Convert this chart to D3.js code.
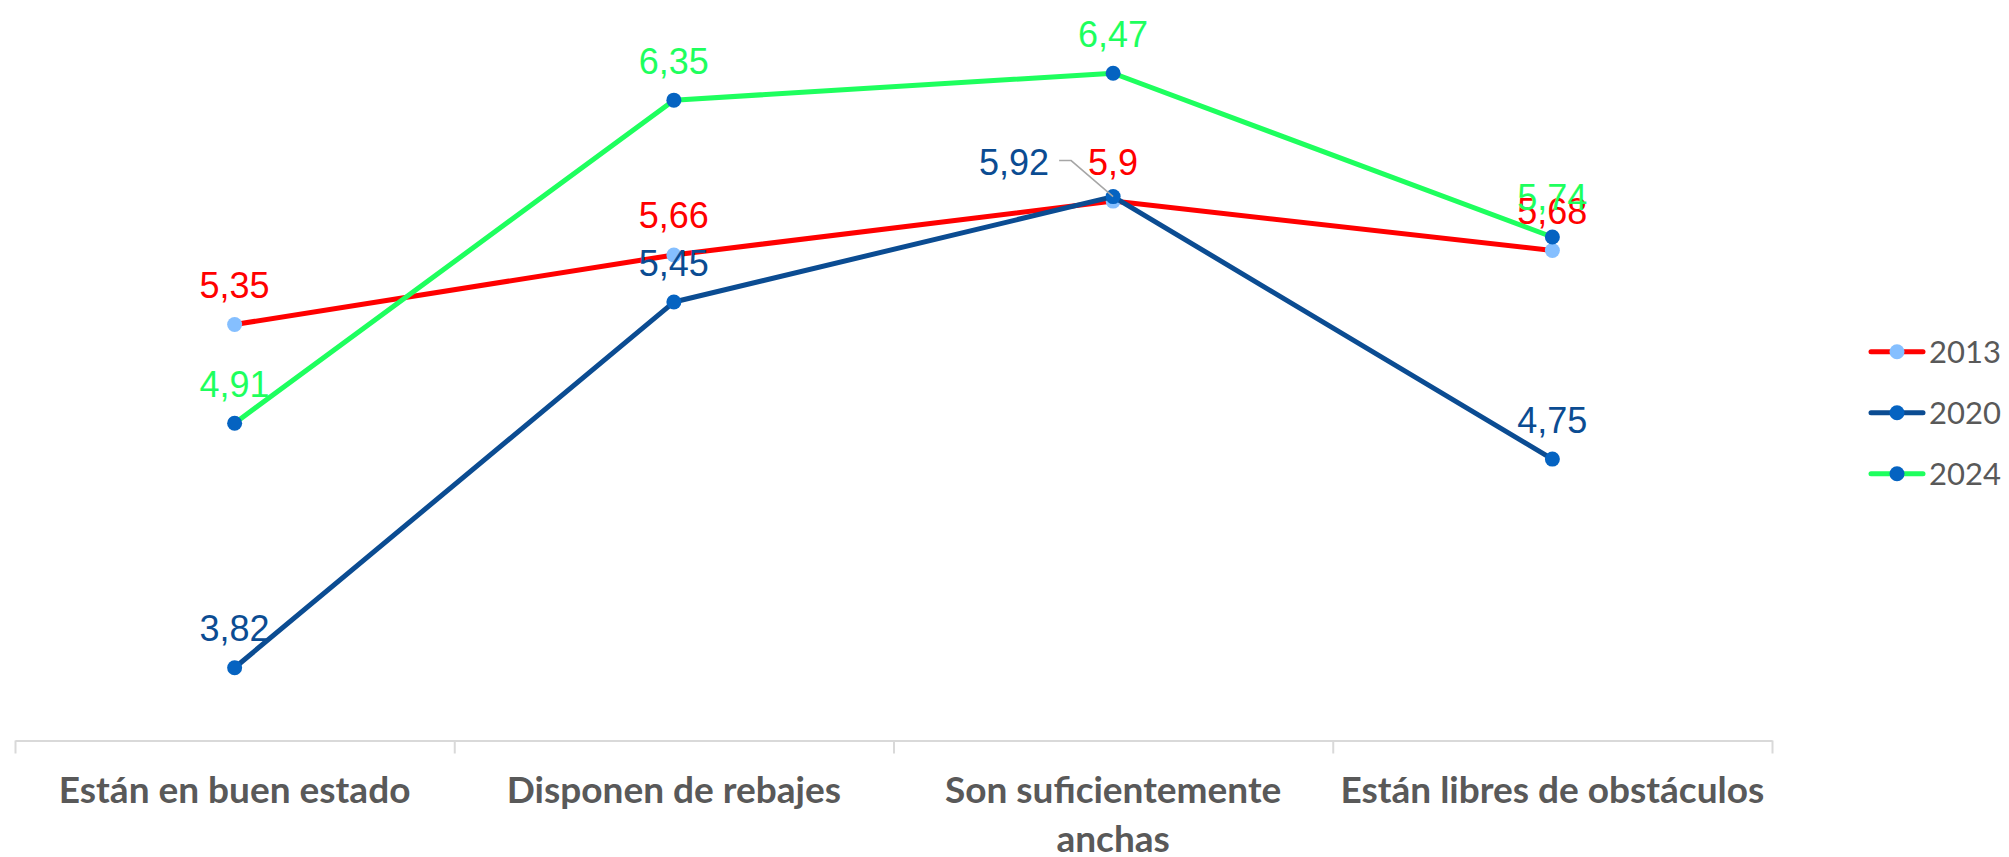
<!DOCTYPE html>
<html>
<head>
<meta charset="utf-8">
<script src="https://cdn.jsdelivr.net/npm/d3@7"></script>
<style>
  html, body { margin: 0; padding: 0; background: #ffffff; }
  svg { display: block; }
</style>
</head>
<body>
<svg id="chart" width="2009" height="857"></svg>
<script>
// ---- data ----
const categories = ["Están en buen estado", "Disponen de rebajes", "Son suficientemente anchas", "Están libres de obstáculos"];
const seriesNames = ["2013", "2020", "2024"];
const values2013 = [5.35, 5.66, 5.90, 5.68];
const values2020 = [3.82, 5.45, 5.92, 4.75];
const values2024 = [4.91, 6.35, 6.47, 5.74];
const labels2013 = ["5,35", "5,66", "5,9", "5,68"];
const labels2020 = ["3,82", "5,45", "5,92", "4,75"];
const labels2024 = ["4,91", "6,35", "6,47", "5,74"];
const yDomain = [3.5, 6.5];

// ---- styles ----
const styles = [
  { line: "#FF0000", marker: "#85BFFF", label: "#FF0000" },
  { line: "#0B4C92", marker: "#0563C1", label: "#0B4C92" },
  { line: "#1EFF5E", marker: "#0563C1", label: "#1EFF5E" }
];
const seriesValues = [values2013, values2020, values2024];
const seriesLabels = [labels2013, labels2020, labels2024];

const svg = d3.select("#chart");
const plotLeft = 15, plotRight = 1772, plotTop = 66.5, plotBottom = 739.5;

const x = d3.scalePoint().domain(categories).range([plotLeft, plotRight]).padding(0.5);
const xEdges = d3.scaleLinear().domain([0, categories.length]).range([plotLeft, plotRight]);
const y = d3.scaleLinear().domain(yDomain).range([plotBottom, plotTop]);

// ---- axis ----
const axisG = svg.append("g").attr("transform", `translate(0,${plotBottom + 1})`)
  .call(d3.axisBottom(xEdges).tickValues(d3.range(categories.length + 1)).tickSize(13).tickSizeOuter(0).tickFormat(""));
axisG.select(".domain").attr("stroke", "#D9D9D9").attr("stroke-width", 2);
axisG.selectAll(".tick line").attr("stroke", "#D9D9D9").attr("stroke-width", 2);

// category labels with wrapping
const catFont = "bold 37px Lato, 'Open Sans', sans-serif";
const maxW = xEdges(1) - xEdges(0) - 8;
const catG = svg.append("g");
categories.forEach(c => {
  const t = catG.append("text")
    .attr("x", x(c)).attr("y", 803)
    .attr("text-anchor", "middle")
    .style("font", catFont)
    .attr("fill", "#595959");
  const words = c.split(" ");
  let line = [], lineNo = 0;
  let tspan = t.append("tspan").attr("x", x(c)).attr("dy", 0);
  words.forEach(w => {
    line.push(w);
    tspan.text(line.join(" "));
    if (tspan.node().getComputedTextLength() > maxW && line.length > 1) {
      line.pop();
      tspan.text(line.join(" "));
      line = [w];
      lineNo++;
      tspan = t.append("tspan").attr("x", x(c)).attr("dy", 49).text(w);
    }
  });
});

// ---- lines & markers ----
const lineGen = d3.line().x((d, i) => x(categories[i])).y(d => y(d));
seriesValues.forEach((vals, s) => {
  svg.append("path").datum(vals)
    .attr("d", lineGen)
    .attr("fill", "none")
    .attr("stroke", styles[s].line)
    .attr("stroke-width", 5)
    .attr("stroke-linejoin", "round");
  svg.append("g").selectAll("circle").data(vals).join("circle")
    .attr("cx", (d, i) => x(categories[i]))
    .attr("cy", d => y(d))
    .attr("r", 7.5)
    .attr("fill", styles[s].marker);
});

// ---- data labels ----
// label offsets (dx, dy relative to point); default centered above
const labelOffsets = { "1-2": { dx: -99, dy: -22, leader: true } };
seriesValues.forEach((vals, s) => {
  vals.forEach((v, i) => {
    const px = x(categories[i]), py = y(v);
    const off = labelOffsets[`${s}-${i}`] || { dx: 0, dy: -26.5 };
    if (off.leader) {
      svg.append("path")
        .attr("d", `M${px + off.dx + 45},${py + off.dy - 14} L${px + off.dx + 57},${py + off.dy - 14} L${px},${py}`)
        .attr("fill", "none").attr("stroke", "#A6A6A6").attr("stroke-width", 1.5);
    }
    svg.append("text")
      .attr("x", px + off.dx).attr("y", py + off.dy)
      .attr("text-anchor", "middle")
      .style("font", "36px 'Liberation Sans', Arial, sans-serif")
      .attr("fill", styles[s].label)
      .text(seriesLabels[s][i]);
  });
});

// ---- legend ----
const legend = svg.append("g");
seriesNames.forEach((n, s) => {
  const ly = 351.7 + s * 61;
  legend.append("line").attr("x1", 1871).attr("x2", 1923).attr("y1", ly).attr("y2", ly)
    .attr("stroke", styles[s].line).attr("stroke-width", 5).attr("stroke-linecap", "round");
  legend.append("circle").attr("cx", 1897).attr("cy", ly).attr("r", 7.5).attr("fill", styles[s].marker);
  legend.append("text").attr("x", 1929).attr("y", ly + 11.5)
    .style("font", "31px Lato, 'Open Sans', sans-serif")
    .attr("fill", "#595959").text(n);
});
</script>
</body>
</html>
